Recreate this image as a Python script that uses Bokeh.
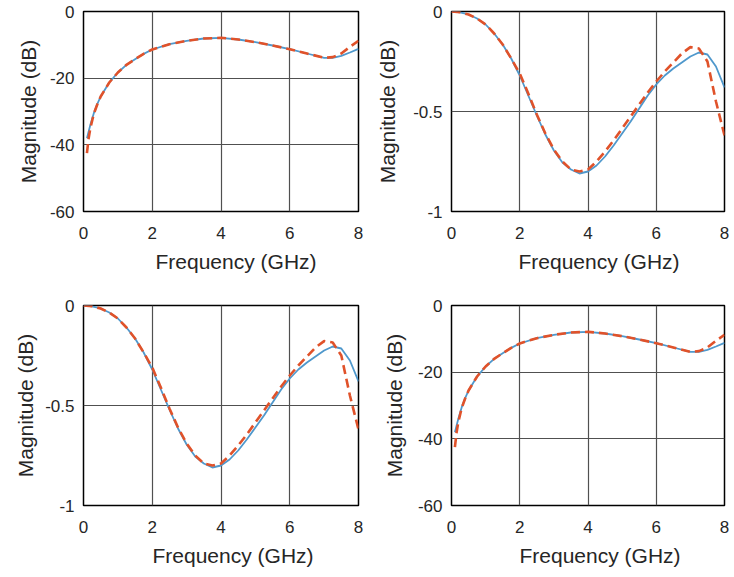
from bokeh.plotting import figure
from bokeh.layouts import gridplot
from bokeh.models import Range1d, FixedTicker, Title
from bokeh.embed import file_html
from bokeh.resources import INLINE

# ---- data ----
freq_a = [0.1, 0.15, 0.2, 0.3, 0.4, 0.5, 0.75, 1.0, 1.25, 1.5, 1.75, 2.0, 2.5, 3.0,
          3.5, 4.0, 4.5, 5.0, 5.5, 6.0, 6.5, 7.0, 7.25, 7.5, 7.75, 8.0]
mag_a_blue = [-38.0, -36.0, -34.0, -30.5, -27.8, -25.5, -21.3, -18.3, -16.0, -14.3,
              -12.7, -11.4, -9.8, -8.8, -8.1, -7.9, -8.4, -9.2, -10.2, -11.3, -12.6,
              -13.9, -13.9, -13.3, -12.3, -11.2]
mag_a_red = [-42.5, -38.0, -35.0, -30.7, -27.9, -25.5, -21.3, -18.3, -16.0, -14.3,
             -12.7, -11.4, -9.8, -8.8, -8.1, -7.9, -8.4, -9.2, -10.2, -11.3, -12.6,
             -13.9, -13.7, -12.6, -10.6, -8.8]

freq_b = [0.0, 0.25, 0.5, 0.75, 1.0, 1.25, 1.5, 1.75, 2.0, 2.25, 2.5, 2.75, 3.0, 3.25,
          3.5, 3.75, 4.0, 4.25, 4.5, 4.75, 5.0, 5.25, 5.5, 5.75, 6.0, 6.25, 6.5, 6.75,
          7.0, 7.25, 7.5, 7.75, 8.0]
mag_b_blue = [0.0, -0.004, -0.015, -0.035, -0.065, -0.11, -0.165, -0.235, -0.32, -0.42,
              -0.52, -0.615, -0.695, -0.755, -0.79, -0.81, -0.8, -0.77, -0.725, -0.67,
              -0.61, -0.55, -0.485, -0.42, -0.365, -0.32, -0.285, -0.255, -0.225, -0.205,
              -0.215, -0.275, -0.38]
mag_b_red = [0.0, -0.004, -0.015, -0.035, -0.065, -0.11, -0.165, -0.235, -0.31, -0.41,
             -0.515, -0.61, -0.69, -0.75, -0.79, -0.8, -0.79, -0.75, -0.70, -0.645,
             -0.585, -0.525, -0.465, -0.405, -0.35, -0.30, -0.255, -0.21, -0.178, -0.185,
             -0.25, -0.45, -0.62]

x_ticks = [0, 2, 4, 6, 8]
x_tick_labels = ["0", "2", "4", "6", "8"]
y_ticks_a = [-60, -40, -20, 0]
y_tick_labels_a = ["-60", "-40", "-20", "0"]
y_ticks_b = [-1, -0.5, 0]
y_tick_labels_b = ["-1", "-0.5", "0"]

x_label = "Frequency (GHz)"
y_label = "Magnitude (dB)"

BLUE = "#4f98cc"
RED = "#e0522a"
TXT = "#262626"
FONT = "Liberation Sans"


def make(freq, blue, red, yticks, ylabels, ymin, w, h, bl, br, bt, bb, ystand, xoff):
    p = figure(width=w, height=h, output_backend="svg", toolbar_location=None,
               x_range=Range1d(0, 8), y_range=Range1d(ymin, 0),
               min_border_left=bl, min_border_right=br,
               min_border_top=bt, min_border_bottom=bb)
    p.outline_line_color = "black"
    p.outline_line_width = 1.5
    p.background_fill_color = "white"
    p.border_fill_color = "white"

    p.xaxis.ticker = FixedTicker(ticks=x_ticks)
    p.xaxis.major_label_overrides = {t: l for t, l in zip(x_ticks, x_tick_labels)}
    p.yaxis.ticker = FixedTicker(ticks=yticks)
    p.yaxis.major_label_overrides = {t: l for t, l in zip(yticks, ylabels)}
    p.xgrid.ticker = FixedTicker(ticks=x_ticks)
    p.ygrid.ticker = FixedTicker(ticks=yticks)

    for ax in (p.xaxis, p.yaxis):
        ax.axis_line_color = None
        ax.major_tick_line_color = None
        ax.minor_tick_line_color = None
        ax.major_label_text_font = FONT
        ax.major_label_text_font_size = "17px"
        ax.major_label_text_color = TXT
        ax.axis_label_text_font = FONT
        ax.axis_label_text_font_size = "21px"
        ax.axis_label_text_font_style = "normal"
        ax.axis_label_text_color = TXT
    p.yaxis.axis_label = y_label
    p.xaxis.major_label_standoff = 9
    p.yaxis.major_label_standoff = 3
    p.yaxis.axis_label_standoff = ystand

    # x label drawn as a below-title so it can sit right of centre, as in the reference
    p.add_layout(Title(text=x_label, align="left", offset=xoff, standoff=12,
                       text_font=FONT, text_font_size="21px",
                       text_font_style="normal", text_color=TXT), "below")

    p.grid.grid_line_color = "#505050"
    p.grid.grid_line_width = 1.2

    p.line(freq, blue, line_color=BLUE, line_width=1.8)
    p.line(freq, red, line_color=RED, line_width=2.6, line_dash="9 5")
    return p


# page has no body margin: columns 370 + 364, rows 290 + 286
f1 = make(freq_a, mag_a_blue, mag_a_red, y_ticks_a, y_tick_labels_a, -60,
          370, 290, 83, 12, 11, 79, 7, 72)
f2 = make(freq_b, mag_b_blue, mag_b_red, y_ticks_b, y_tick_labels_b, -1,
          364, 290, 81, 10, 11, 79, 11, 67)
f3 = make(freq_b, mag_b_blue, mag_b_red, y_ticks_b, y_tick_labels_b, -1,
          370, 286, 83, 12, 15, 71, 5, 69)
f4 = make(freq_a, mag_a_blue, mag_a_red, y_ticks_a, y_tick_labels_a, -60,
          364, 286, 81, 10, 15, 71, 9, 68)

grid = gridplot([[f1, f2], [f3, f4]], toolbar_location=None)

open("out.html", "w").write(file_html(grid, INLINE))
